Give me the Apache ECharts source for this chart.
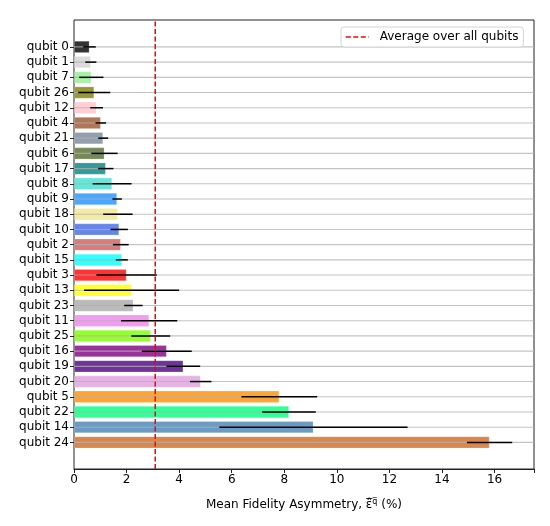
<!DOCTYPE html>
<html>
<head>
<meta charset="utf-8">
<script src="https://cdn.jsdelivr.net/npm/echarts@6/dist/echarts.min.js"></script>
<style>
html,body{margin:0;padding:0;background:#fff;}
#chart{width:550px;height:526px;}
</style>
</head>
<body>
<div id="chart"></div>
<script>
// ---- data ----
const categories = ['qubit 0','qubit 1','qubit 7','qubit 26','qubit 12','qubit 4','qubit 21','qubit 6','qubit 17','qubit 8','qubit 9','qubit 18','qubit 10','qubit 2','qubit 15','qubit 3','qubit 13','qubit 23','qubit 11','qubit 25','qubit 16','qubit 19','qubit 20','qubit 5','qubit 22','qubit 14','qubit 24'];
const values = [0.59,0.64,0.66,0.77,0.86,1.02,1.11,1.16,1.21,1.45,1.64,1.67,1.72,1.78,1.82,2.00,2.19,2.26,2.86,2.92,3.53,4.16,4.82,7.81,8.18,9.11,15.81];
const errors = [0.24,0.21,0.46,0.61,0.24,0.20,0.19,0.50,0.29,0.74,0.18,0.56,0.33,0.30,0.23,1.15,1.81,0.35,1.07,0.74,0.95,0.64,0.41,1.44,1.02,3.58,0.86];
const colors = ['black','lightgray','lightgreen','olive','pink','sienna','lightslategray','darkolivegreen','teal','turquoise','dodgerblue','khaki','royalblue','indianred','cyan','red','yellow','darkgray','violet','lawngreen','purple','indigo','plum','darkorange','springgreen','steelblue','chocolate'];
const average = 3.09;
const avgLabel = 'Average over all qubits';
const xTicks = [0,2,4,6,8,10,12,14,16];
const X_MIN = 0, X_MAX = 17.5;

const FONT = 'DejaVu Sans';
const chart = echarts.init(document.getElementById('chart'), null, {renderer:'canvas'});

const barData = values.map((v,i)=>({value:v, itemStyle:{color:colors[i], opacity:0.8}}));
const errData = values.map((v,i)=>[v, i, errors[i]]);
const gridLineData = categories.map((c,i)=>[0, i]);

const option = {
  animation:false,
  backgroundColor:'#ffffff',
  textStyle:{fontFamily:FONT},
  legend:{
    data:[avgLabel],
    left:341, top:27,
    padding:[4,5,4,4],
    backgroundColor:'#fff',
    borderColor:'#d4d4d4', borderWidth:1, borderRadius:3,
    itemWidth:23, itemHeight:12,
    itemStyle:{opacity:0},
    lineStyle:{color:'#ff0000', width:1.5, type:[5,2.5]},
    textStyle:{fontFamily:FONT, fontSize:12, color:'#000', padding:[0,0,0,6]}
  },
  grid:[
    {left:74, right:16, top:20, height:449, show:true, borderColor:'#222', borderWidth:1, backgroundColor:'transparent'},
    {left:74, right:16, top:39.3, height:410.7}
  ],
  xAxis:[
    {gridIndex:0, type:'value', min:X_MIN, max:X_MAX, interval:2,
     axisLine:{show:true, lineStyle:{color:'#222', width:1}},
     axisTick:{show:true, length:4, lineStyle:{color:'#222'}},
     axisLabel:{fontFamily:FONT, fontSize:12, color:'#000', margin:5,
       formatter:(v)=> xTicks.indexOf(v)>=0 ? String(v) : ''},
     splitLine:{show:false},
     name:'Mean Fidelity Asymmetry, {e|ε\u0302\u0305}{q|q\u0305} (%)',
     nameLocation:'middle', nameGap:29,
     nameTextStyle:{fontFamily:FONT, fontSize:12, color:'#000',
       rich:{e:{fontFamily:FONT, fontSize:12, color:'#000'}, q:{fontFamily:FONT, fontSize:8, color:'#000', verticalAlign:'top', padding:[0,0,6,0]}}}
    },
    {gridIndex:1, type:'value', min:X_MIN, max:X_MAX, show:false, splitLine:{show:false}}
  ],
  yAxis:[
    {gridIndex:0, type:'value', min:0, max:1, show:false, splitLine:{show:false}},
    {gridIndex:1, type:'category', data:categories, inverse:true,
     axisLine:{show:false},
     axisTick:{show:true, alignWithLabel:true, interval:0, length:4, lineStyle:{color:'#222'}},
     axisLabel:{fontFamily:FONT, fontSize:12, color:'#000', margin:5, interval:0},
     splitLine:{show:false}
    }
  ],
  series:[
    {type:'bar', xAxisIndex:1, yAxisIndex:1, data:barData, barWidth:'80%', z:2,
     itemStyle:{borderColor:'rgba(255,255,255,0.35)', borderWidth:0.8}},
    {type:'custom', xAxisIndex:1, yAxisIndex:1, data:gridLineData, z:3, silent:true,
     renderItem:(params, api)=>{
       const y = api.coord([0, api.value(1)])[1];
       const cs = params.coordSys;
       return {type:'line', shape:{x1:cs.x, y1:y, x2:cs.x+cs.width, y2:y},
               style:{stroke:'rgba(176,176,176,0.75)', lineWidth:1.1}};
     }},
    {type:'custom', xAxisIndex:1, yAxisIndex:1, data:errData, z:4, silent:true,
     encode:{x:0, y:1},
     renderItem:(params, api)=>{
       const v = api.value(0), i = api.value(1), e = api.value(2);
       const a = api.coord([v-e, i]), b = api.coord([v+e, i]);
       return {type:'line', shape:{x1:a[0], y1:a[1], x2:b[0], y2:b[1]},
               style:{stroke:'#000', lineWidth:1.5}};
     }},
    {type:'line', name:avgLabel, xAxisIndex:0, yAxisIndex:0, z:5,
     data:[[average,0],[average,1]], symbol:'none', showSymbol:false,
     itemStyle:{color:'#ff0000'},
     lineStyle:{color:'#ff0000', width:1.5, type:[5,2.5]}}
  ]
};
chart.setOption(option);
</script>
</body>
</html>
